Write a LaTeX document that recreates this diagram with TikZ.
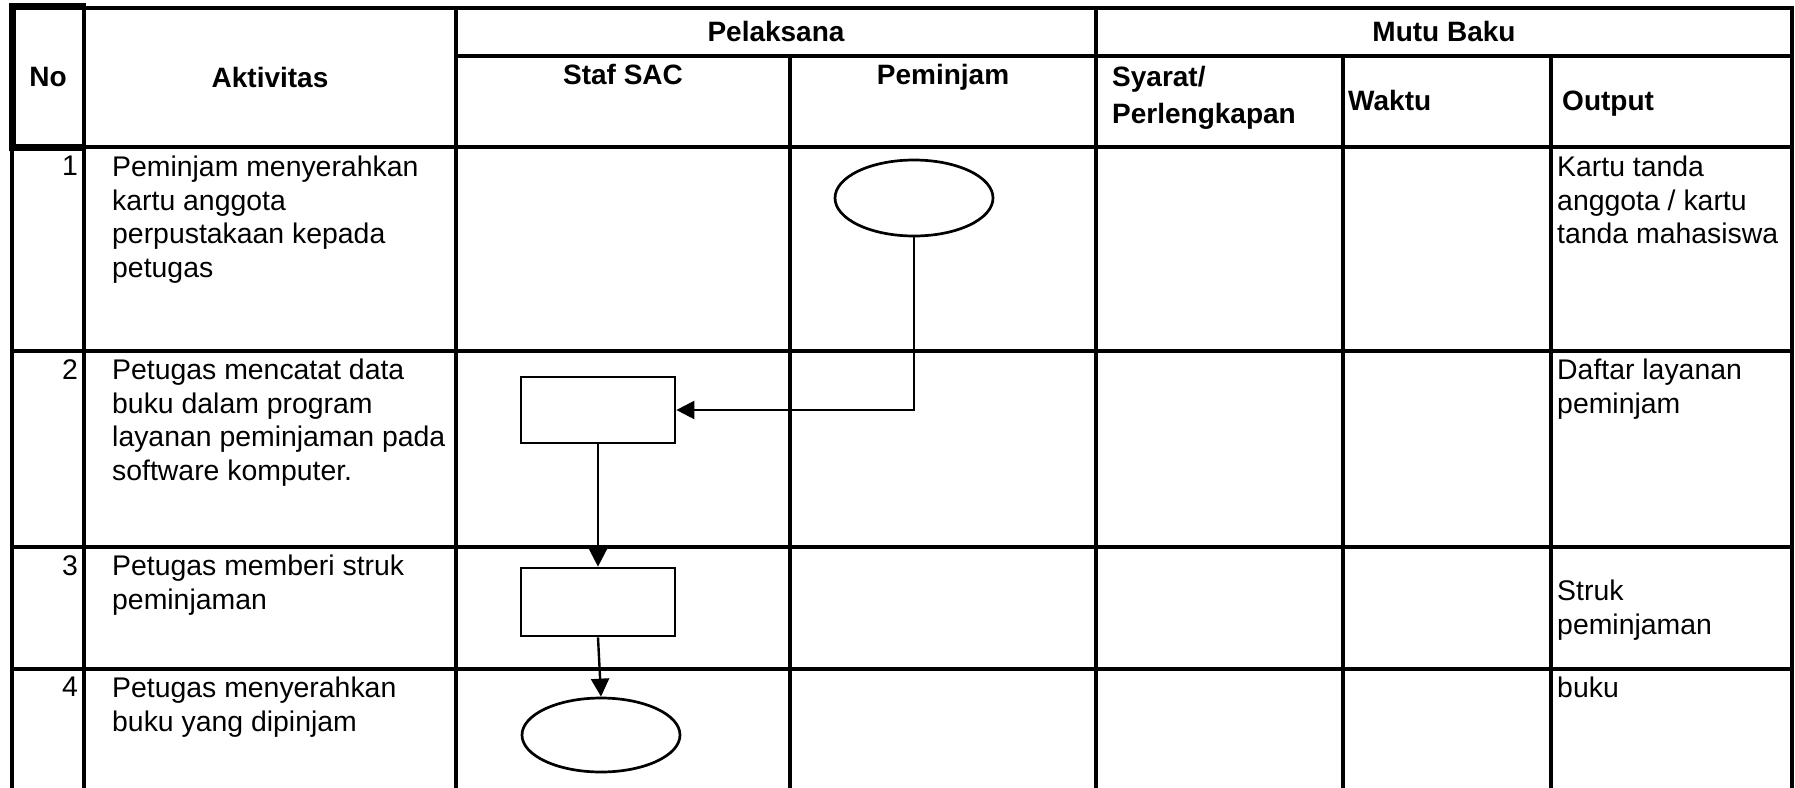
\documentclass[tikz,border=0pt]{standalone}
\usepackage{fontspec}
\setmainfont{Liberation Sans}
\usepackage{tikz}
\usetikzlibrary{shapes.geometric, arrows.meta, positioning, calc}

\tikzset{
    tableline/.style={line width=3.5pt, line cap=rect},
    cellhead/.style={font=\fontsize{28}{37}\selectfont\bfseries, inner sep=0pt},
    celltext/.style={font=\fontsize{28.4}{33.6}\selectfont, inner sep=0pt, anchor=north west, align=left},
    terminal/.style={draw, ellipse, line width=2.7pt, minimum width=158pt, minimum height=76pt, inner sep=0pt},
    process/.style={draw, rectangle, line width=2.7pt, minimum width=154pt, minimum height=66pt, inner sep=0pt},
    flow/.style={line width=2.4pt, -{Triangle[length=18pt, width=18pt]}},
}

\begin{document}
\begin{tikzpicture}[x=1pt, y=-1pt]
        \fill[white] (0,0) rectangle (1795,787);
        \useasboundingbox (0,0) rectangle (1795,787);

        % grid of the table
        \draw[tableline] (12,8) -- (1792,8);% Top
        \draw[tableline] (456,56) -- (1792,56);% Pelaksana / Mutu Baku split
        \draw[tableline] (12,147) -- (1792,147);% Header bottom
        \foreach \y in {351,547,669}
            \draw[tableline] (12,\y) -- (1792,\y);
        \foreach \x in {12,84,456,1096,1792}
            \draw[tableline] (\x,8) -- (\x,790);
        \foreach \x in {790,1343,1551}
            \draw[tableline] (\x,56) -- (\x,790);
        \draw[line width=7pt, line join=miter] (86,6) -- (12,6) -- (12,147) -- (86,147);% No cell

        % header
        \node[cellhead] (hno) at (48,77) {No};
        \node[cellhead] (hakt) at (270,77) {Aktivitas};
        \node[cellhead] (hpel) at (776,31) {Pelaksana};
        \node[cellhead] (hmutu) at (1444,31) {Mutu Baku};
        \node[cellhead, anchor=base] (hstaf) at (623,84) {Staf SAC};
        \node[cellhead, anchor=base] (hpem) at (943,84) {Peminjam};
        \node[cellhead, anchor=north west, align=left] (hsyarat) at (1112,66) {Syarat/\\Perlengkapan};
        \node[cellhead, anchor=base west] (hwaktu) at (1348,110) {Waktu};
        \node[cellhead, anchor=base west] (hout) at (1562,110) {Output};

        % rows
        \node[celltext, anchor=north east] (no1) at (78,156) {1};
        \node[celltext, anchor=north east] (no2) at (78,359) {2};
        \node[celltext, anchor=north east] (no3) at (78,555) {3};
        \node[celltext, anchor=north east] (no4) at (78,677) {4};

        \node[celltext] (akt1) at (112,156) {Peminjam menyerahkan\\kartu anggota\\perpustakaan kepada\\petugas};
        \node[celltext] (akt2) at (112,359) {Petugas mencatat data\\buku dalam program\\layanan peminjaman pada\\software komputer.};
        \node[celltext] (akt3) at (112,555) {Petugas memberi struk\\peminjaman};
        \node[celltext] (akt4) at (112,677) {Petugas menyerahkan\\buku yang dipinjam};

        \node[celltext] (out1) at (1557,156) {Kartu tanda\\anggota / kartu\\tanda mahasiswa};
        \node[celltext] (out2) at (1557,359) {Daftar layanan\\peminjam};
        \node[celltext] (out3) at (1557,580) {Struk\\peminjaman};
        \node[celltext] (out4) at (1557,677) {buku};

        % flow
        \node[terminal] (start1) at (914,198) {};
        \node[process] (proc2) at (598,410) {};
        \node[process, minimum height=68pt] (proc3) at (598,602) {};
        \node[terminal, minimum height=74pt] (end4) at (601,735) {};

        \draw[flow] (start1.south) |- (proc2.east);
        \draw[flow] (proc2.south) -- (proc3.north);
        \draw[flow] (proc3.south) -- (end4.north);
    \end{tikzpicture}
\end{document}
